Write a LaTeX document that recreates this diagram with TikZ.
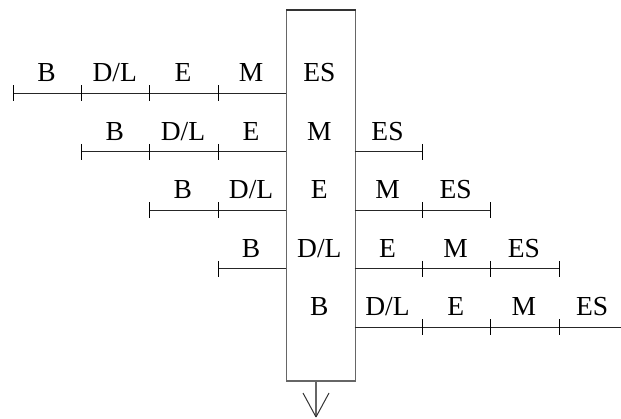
\documentclass[tikz,border=0pt]{standalone}
\usepackage{fontspec}
\setmainfont{Liberation Serif}
\tikzset{
  lbl/.style={inner sep=0pt, anchor=base, font=\fontsize{27.5}{27.5}\selectfont},
  seg/.style={line width=1pt, draw=black!85},
  tick/.style={line width=1pt, draw=black},
  frame/.style={line width=1.1pt, draw=black!60},
}
\begin{document}
\begin{tikzpicture}[x=1pt, y=-1pt]
  \useasboundingbox (0,0) rectangle (621,419);
  % central box (column 4)
  \node[frame, draw, minimum width=68.2pt, minimum height=370.5pt, inner sep=0pt, anchor=north west] (box) at (286.3,10) {};
  \draw[line width=1.1pt, black!80] (box.north west) -- (box.north east);
  % output arrow with an open V head
  \coordinate (outtop) at (316,380.5);
  \coordinate (outtip) at (316,417);
  \draw[frame] (outtop) -- (outtip);
  \draw[line width=1pt, black!80] (outtip) -- ++(-13,-24) (outtip) -- ++(13,-24);
  % five staggered rows
  \foreach \k in {0,...,4} {
    \pgfmathsetmacro{\y}{93.5+58.5*\k}
    \pgfmathsetmacro{\xl}{13.5+68.2*\k}
    \coordinate (L\k) at (\xl,\y);
    \coordinate (Bl\k) at (286.3,\y);
    \coordinate (Br\k) at (354.5,\y);
    % left part
    \ifnum\k<4
      \draw[seg] (L\k) -- (Bl\k);
    \fi
    % right part
    \ifnum\k>0
      \pgfmathsetmacro{\xr}{min(621,354.5+68.2*\k)}
      \coordinate (R\k) at (\xr,\y);
      \draw[seg] (Br\k) -- (R\k);
    \fi
    % tick marks
    \foreach \c in {0,...,8} {
      \pgfmathsetmacro{\xc}{13.5+68.2*\c}
      \pgfmathtruncatemacro{\ok}{(\c>=\k && \c<=3) || (\c>=6 && \c<=\k+5) ? 1 : 0}
      \ifnum\ok=1
        \draw[tick] (\xc,\y-8) -- (\xc,\y+8);
      \fi
    }
    % labels B, D/L, E, M, ES in columns k..k+4
    \foreach \t [count=\i from 0] in {B,D/L,E,M,ES} {
      \pgfmathsetmacro{\xm}{13.5+68.2*(\i+\k)+33}
      \node[lbl] (t\k\i) at (\xm,\y-11.5) {\t};
    }
  }
\end{tikzpicture}
\end{document}
